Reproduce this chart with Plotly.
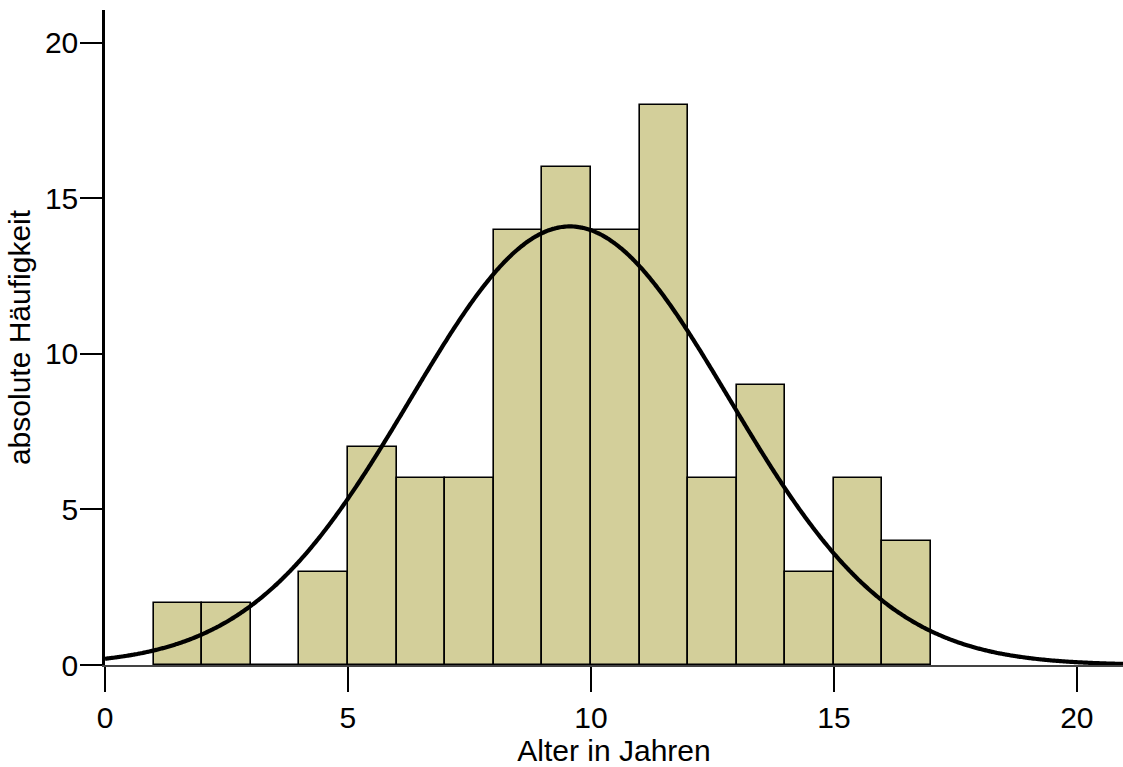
import numpy as np
import plotly.graph_objects as go

# Age classes (left edge of each one-year bin) and absolute counts
alter = [1, 2, 3, 4, 5, 6, 7, 8, 9, 10, 11, 12, 13, 14, 15, 16]
haeufigkeit = [2, 2, 0, 3, 7, 6, 6, 14, 16, 14, 18, 6, 9, 3, 6, 4]

x_ticks = [0, 5, 10, 15, 20]
y_ticks = [0, 5, 10, 15, 20]

# Normal fit from the sample (ages are whole years)
ages = np.repeat(np.array(alter, dtype=float), haeufigkeit)
n = ages.size
mu = ages.mean()
sd = ages.std(ddof=1)
xs = np.linspace(0, 21, 600)
ys = n * 1.0 * np.exp(-0.5 * ((xs - mu) / sd) ** 2) / (sd * np.sqrt(2 * np.pi))

fig = go.Figure()
fig.add_trace(go.Bar(
    x=[a + 0.5 for a in alter],
    y=haeufigkeit,
    width=1,
    marker=dict(color="#D3CF9A", line=dict(color="black", width=1.6)),
    showlegend=False,
))
fig.add_trace(go.Scatter(
    x=xs, y=ys, mode="lines",
    line=dict(color="black", width=4.2, shape="spline"),
    showlegend=False,
))

font = dict(family="Liberation Sans, Arial, sans-serif", size=30, color="black")
title_font = dict(family="Liberation Sans, Arial, sans-serif", size=30, color="black")
fig.update_layout(
    width=1123, height=767,
    margin=dict(l=105, r=0, t=10, b=102),
    paper_bgcolor="white", plot_bgcolor="white",
    font=font,
    bargap=0,
    xaxis=dict(
        range=[0, 20.95], tickvals=x_ticks, ticks="outside", ticklen=25,
        tickwidth=2, tickcolor="black", showgrid=False, zeroline=False,
        showline=True, linecolor="#444", linewidth=1.5,
        title=dict(text="Alter in Jahren", standoff=6, font=title_font),
        tickfont=font,
    ),
    yaxis=dict(
        range=[0, 21.06], tickvals=y_ticks, ticks="outside", ticklen=22,
        tickwidth=2, tickcolor="black", showgrid=False, zeroline=False,
        showline=True, linecolor="black", linewidth=2.5,
        ticklabelstandoff=-4,
        title=dict(text="absolute Häufigkeit", standoff=6, font=title_font),
        tickfont=font,
    ),
)

fig.write_html("out.html")
